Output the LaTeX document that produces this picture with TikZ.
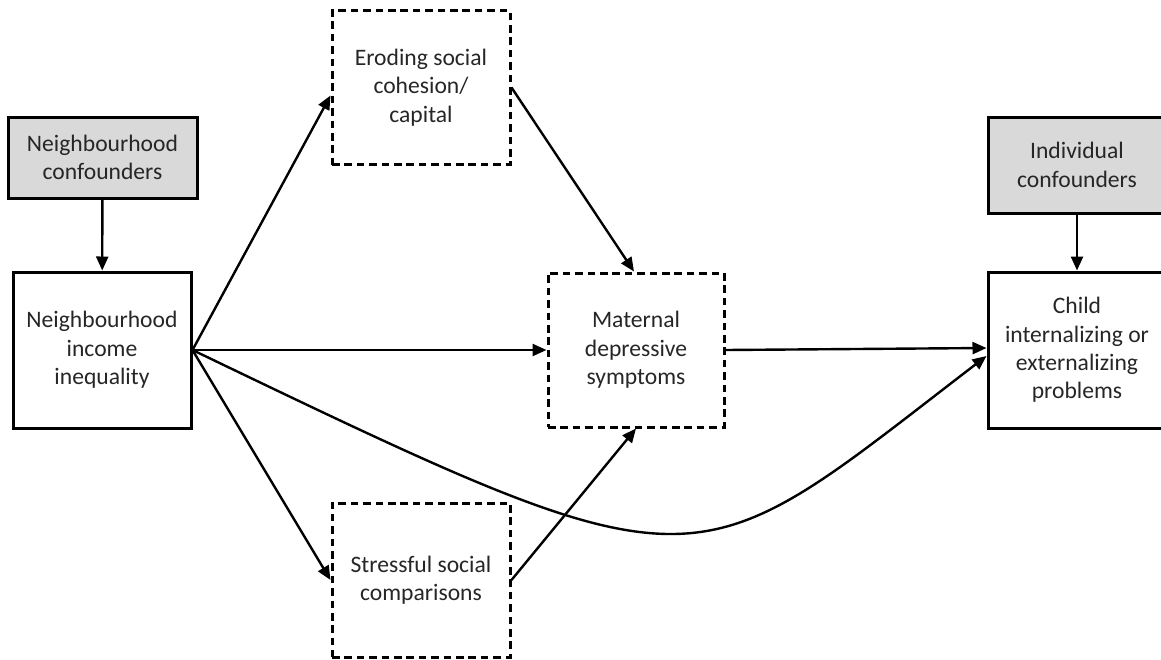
\documentclass[tikz,border=0pt]{standalone}
\usepackage{fontspec}
\setmainfont{Carlito}
\usepackage{tikz}
\usetikzlibrary{arrows.meta}
\definecolor{confgray}{RGB}{217, 217, 217}
\definecolor{textdark}{RGB}{38, 38, 38}

\tikzset{
  varbox/.style={draw=black, line width=1.5pt, align=center, text=textdark,
    font=\fontsize{11.8}{14.2}\selectfont, inner sep=0pt},
  solidbox/.style={varbox, minimum width=89pt, minimum height=78pt},
  confbox/.style={varbox, fill=confgray},
  dashbox/.style={varbox, dash pattern=on 3.8pt off 2.4pt, minimum width=89pt, minimum height=77pt},
  link/.style={line width=1.2pt, -{Triangle[length=7pt, width=6pt]}}
}

\begin{document}
\begin{tikzpicture}[x=0.5pt, y=-0.5pt]
  \useasboundingbox (0,0) rectangle (1161,659);
  \clip (0,0) rectangle (1161,659);

  % confounders
  \node[confbox, minimum width=94.5pt, minimum height=40.5pt] (nconf) at (102.5,157.5) {Neighbourhood\\confounders};
  \node[confbox, minimum width=89pt, minimum height=48pt] (iconf) at (1077,165) {Individual\\confounders};

  % exposure and outcome
  \node[solidbox] (ineq) at (102,350) {Neighbourhood\\income\\inequality};
  \node[solidbox] (child) at (1077,350) {Child\\internalizing or\\externalizing\\problems};

  % mediators
  \node[dashbox] (cohesion) at (421,87.5) {Eroding social\\cohesion/\\capital};
  \node[dashbox, minimum width=88pt] (maternal) at (636,350) {Maternal\\depressive\\symptoms};
  \node[dashbox] (compare) at (421,580) {Stressful social\\comparisons};

  \draw[link] (nconf) -- (ineq);
  \draw[link] (iconf) -- (child);
  \draw[link] (ineq.east) -- ([yshift=-4pt]cohesion.west);
  \draw[link] (ineq.east) -- (maternal.west);
  \draw[link] (ineq.east) -- (compare.west);
  \draw[link] (cohesion.east) -- ([xshift=-1pt]maternal.north);
  \draw[link] (compare.east) -- (maternal.south);
  \draw[link] (maternal.east) -- ([yshift=1pt]child.west);
  \draw[link] (ineq.east) .. controls +(520,250) and +(-300,230) .. ([yshift=-3pt]child.west);
\end{tikzpicture}
\end{document}
